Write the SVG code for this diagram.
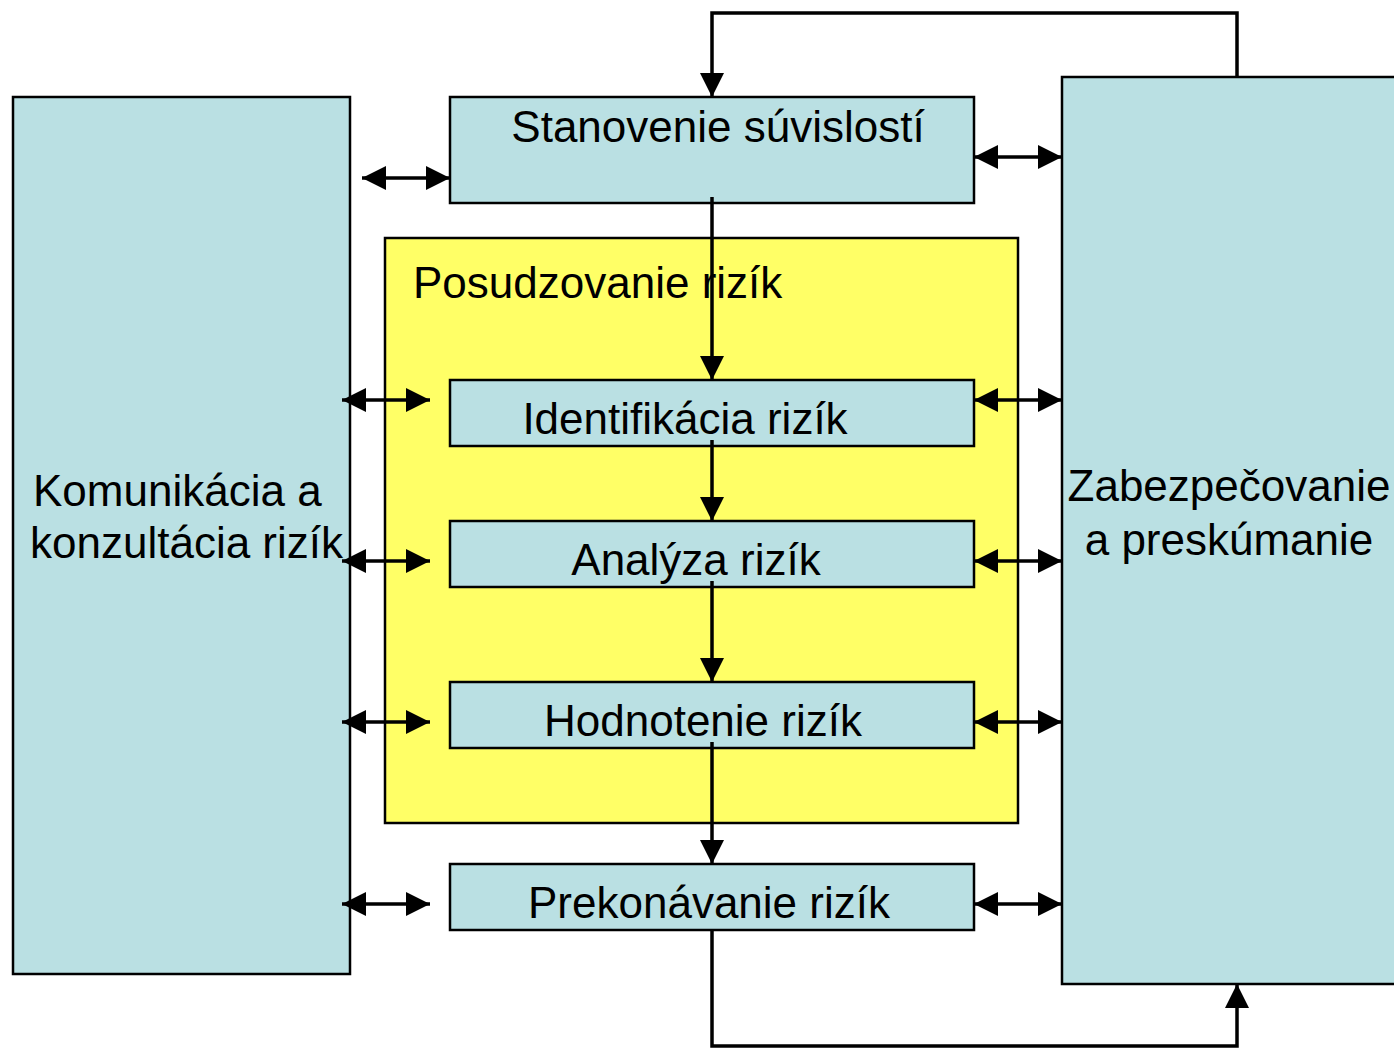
<svg xmlns="http://www.w3.org/2000/svg" width="1394" height="1048" viewBox="0 0 1394 1048">
  <defs>
    <marker id="head" viewBox="0 0 24 24" refX="24" refY="12" markerWidth="24" markerHeight="24" markerUnits="userSpaceOnUse" orient="auto-start-reverse">
      <path d="M0,0 L24,12 L0,24 Z" fill="#000"/>
    </marker>
    <style>
      .box { fill: #bae0e3; stroke: #000; stroke-width: 2.5; }
      .area { fill: #ffff66; stroke: #000; stroke-width: 2.5; }
      .lbl { font-family: "Liberation Sans", Arial, sans-serif; font-size: 44px; fill: #000; }
      .c { text-anchor: middle; }
      .wire { fill: none; stroke: #000; stroke-width: 3.5; }
      .one { marker-end: url(#head); }
      .two { marker-start: url(#head); marker-end: url(#head); }
    </style>
  </defs>

  <rect width="1394" height="1048" fill="#fff"/>

  <!-- side panels -->
  <g id="komunikacia">
    <rect class="box" x="13" y="97" width="337" height="877"/>
    <text class="lbl" x="33" y="506">Komunikácia a</text>
    <text class="lbl" x="30" y="558">konzultácia rizík</text>
  </g>
  <g id="zabezpecovanie">
    <rect class="box" x="1062" y="77" width="340" height="907"/>
    <text class="lbl c" x="1229" y="501">Zabezpečovanie</text>
    <text class="lbl c" x="1229" y="555">a preskúmanie</text>
  </g>

  <!-- assessment area -->
  <g id="posudzovanie">
    <rect class="area" x="385" y="238" width="633" height="585"/>
    <text class="lbl" x="413" y="298">Posudzovanie rizík</text>
  </g>

  <!-- process steps -->
  <g id="stanovenie">
    <rect class="box" x="450" y="97" width="524" height="106"/>
    <text class="lbl c" x="718" y="142">Stanovenie súvislostí</text>
  </g>
  <g id="identifikacia">
    <rect class="box" x="450" y="380" width="524" height="66"/>
    <text class="lbl c" x="685" y="434">Identifikácia rizík</text>
  </g>
  <g id="analyza">
    <rect class="box" x="450" y="521" width="524" height="66"/>
    <text class="lbl c" x="696" y="575">Analýza rizík</text>
  </g>
  <g id="hodnotenie">
    <rect class="box" x="450" y="682" width="524" height="66"/>
    <text class="lbl c" x="703" y="736">Hodnotenie rizík</text>
  </g>
  <g id="prekonavanie">
    <rect class="box" x="450" y="864" width="524" height="66"/>
    <text class="lbl c" x="709" y="918">Prekonávanie rizík</text>
  </g>

  <!-- connectors -->
  <g id="connectors">
    <!-- feedback loops -->
    <path class="wire one" d="M1237,77 V13 H712 V97"/>
    <path class="wire one" d="M712,930 V1046 H1237 V984"/>
    <!-- main flow -->
    <path class="wire one" d="M712,197 V380"/>
    <path class="wire one" d="M712,440 V521"/>
    <path class="wire one" d="M712,581 V682"/>
    <path class="wire one" d="M712,742 V864"/>
    <!-- communication links -->
    <path class="wire two" d="M362,178 H450"/>
    <path class="wire two" d="M342,400 H430"/>
    <path class="wire two" d="M342,561 H430"/>
    <path class="wire two" d="M342,722 H430"/>
    <path class="wire two" d="M342,904 H430"/>
    <!-- monitoring links -->
    <path class="wire two" d="M974,157 H1062"/>
    <path class="wire two" d="M974,400 H1062"/>
    <path class="wire two" d="M974,561 H1062"/>
    <path class="wire two" d="M974,722 H1062"/>
    <path class="wire two" d="M974,904 H1062"/>
  </g>
</svg>
